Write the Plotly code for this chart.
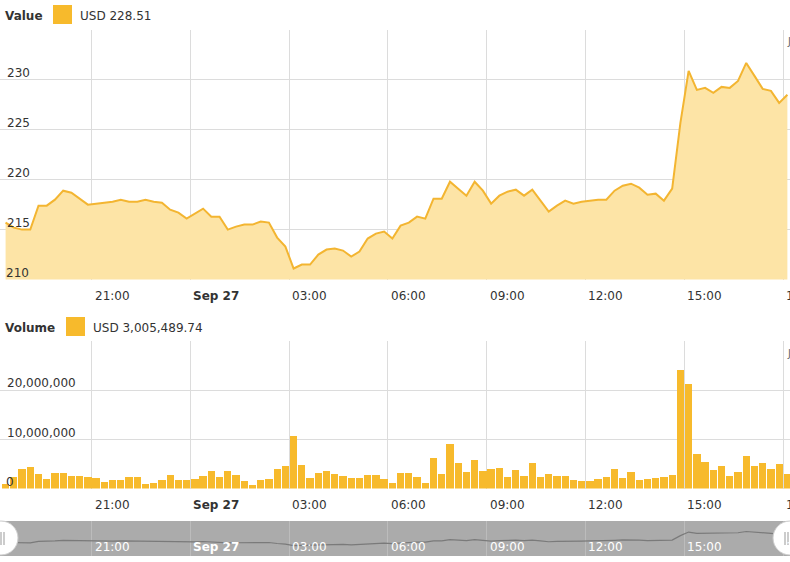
import pandas as pd
import plotly.graph_objects as go

# 15 minute candles, Sep 26 18:23 -> Sep 27 18:08
times = pd.date_range("2020-09-26 18:23", periods=96, freq="15min")

price = [
    215.7, 215.2, 215.0, 215.0, 217.4, 217.4, 218.0, 218.9, 218.7, 218.1,
    217.5, 217.6, 217.7, 217.8, 218.0, 217.8, 217.8, 218.0, 217.8, 217.7,
    217.0, 216.7, 216.1, 216.6, 217.1, 216.3, 216.3, 215.0, 215.3, 215.5,
    215.5, 215.8, 215.7, 214.2, 213.3, 211.1, 211.5, 211.5, 212.5, 213.0,
    213.1, 212.9, 212.3, 212.8, 214.1, 214.6, 214.8, 214.1, 215.4, 215.7,
    216.3, 216.1, 218.1, 218.1, 219.8, 219.1, 218.4, 219.8, 218.9, 217.6,
    218.4, 218.8, 219.0, 218.4, 219.0, 217.9, 216.8, 217.4, 217.9, 217.6,
    217.8, 217.9, 218.0, 218.0, 218.9, 219.4, 219.6, 219.2, 218.5, 218.6,
    217.9, 219.1, 225.7, 230.9, 229.0, 229.2, 228.7, 229.3, 229.2, 229.9,
    231.7, 230.4, 229.1, 228.9, 227.7, 228.51,
]

# volume in millions of USD
volume_m = [
    1.0, 2.4, 4.0, 4.3, 2.9, 1.9, 3.1, 3.1, 2.6, 2.6,
    2.4, 2.2, 1.4, 1.7, 1.7, 2.4, 2.4, 1.0, 1.2, 1.7,
    2.7, 1.7, 1.7, 2.0, 2.5, 3.5, 2.4, 3.5, 2.7, 1.5,
    0.8, 1.7, 1.9, 3.9, 4.5, 10.7, 4.8, 2.2, 3.1, 3.5,
    2.9, 2.5, 2.2, 2.2, 2.7, 2.7, 1.9, 1.2, 3.1, 3.1,
    2.4, 1.2, 6.3, 2.9, 9.0, 5.1, 3.3, 5.8, 3.5, 3.9,
    4.2, 2.4, 3.7, 2.6, 5.1, 2.4, 2.9, 2.6, 2.6, 1.7,
    1.5, 1.5, 1.9, 2.4, 4.0, 2.2, 3.3, 1.7, 1.9, 2.2,
    2.4, 2.7, 24.1, 21.3, 7.0, 5.4, 3.7, 4.5, 2.6, 3.3,
    6.6, 4.5, 5.2, 4.0, 5.0, 3.00548974,
]
volume = [v * 1e6 for v in volume_m]

tick_times = ["2020-09-26 21:00", "2020-09-27 00:00", "2020-09-27 03:00",
              "2020-09-27 06:00", "2020-09-27 09:00", "2020-09-27 12:00",
              "2020-09-27 15:00", "2020-09-27 18:00"]
tick_text = ["21:00", "Sep 27", "03:00", "06:00", "09:00", "12:00", "15:00", "18:00"]

price_ticks = [210, 215, 220, 225, 230, 235]
price_ticktext = ["", "215", "220", "225", "230", ""]
vol_ticks = [0, 10e6, 20e6, 30e6]
vol_ticktext = ["", "10,000,000", "20,000,000", ""]

W, H = 790, 562
LINE = "#f3b531"
FILL = "#fde4a6"
BAR = "#f7ba2c"
GRID = "#dcdcdc"
TXT = "#333333"
FONT = "DejaVu Sans"


def px(x):
    return x / W


def py(y):
    return 1 - y / H


x_range = ["2020-09-26 18:12:50", "2020-09-27 18:12:46"]

fig = go.Figure()
fig.add_trace(go.Scatter(x=times, y=price, mode="lines", fill="tozeroy",
                         line=dict(color=LINE, width=2), fillcolor=FILL,
                         xaxis="x", yaxis="y", hoverinfo="x+y"))
fig.add_trace(go.Bar(x=times, y=volume, marker=dict(color=BAR, line=dict(width=0)),
                     width=13.3 * 60 * 1000, xaxis="x2", yaxis="y2"))
fig.add_trace(go.Scatter(x=times, y=price, mode="lines",
                         line=dict(color="#7a7a7a", width=1.2),
                         xaxis="x3", yaxis="y3", hoverinfo="skip"))

xcommon = dict(type="date", range=x_range, tickvals=tick_times, showticklabels=False,
               showgrid=True, gridcolor=GRID, gridwidth=1, zeroline=False,
               showline=False, ticks="", fixedrange=True)
ycommon = dict(showgrid=True, gridcolor=GRID, gridwidth=1, zeroline=False,
               showline=False, ticks="", ticklabelposition="inside",
               ticklabelshift=-7, ticklabelstandoff=4,
               tickfont=dict(family=FONT, size=12, color=TXT), fixedrange=True)

fig.update_layout(
    width=W, height=H,
    margin=dict(l=0, r=0, t=0, b=0),
    paper_bgcolor="white", plot_bgcolor="white",
    showlegend=False, bargap=0,
    font=dict(family=FONT, size=12, color=TXT),
    xaxis=dict(domain=[0, 1], anchor="y", **xcommon),
    yaxis=dict(domain=[py(279.5), py(30)], range=[210, 235], tickvals=price_ticks,
               ticktext=price_ticktext, anchor="x", **ycommon),
    xaxis2=dict(domain=[0, 1], anchor="y2", **xcommon),
    yaxis2=dict(domain=[py(488.5), py(341)], range=[0, 30e6], tickvals=vol_ticks,
                ticktext=vol_ticktext, anchor="x2", **ycommon),
    xaxis3=dict(domain=[0, 1], anchor="y3", **{**xcommon, "gridcolor": "#bcbcbc"}),
    yaxis3=dict(domain=[py(556), py(521)], range=[196, 247], anchor="x3",
                showgrid=False, showticklabels=False, zeroline=False, fixedrange=True),
)

shapes = [
    # navigator band
    dict(type="rect", xref="paper", yref="paper", x0=0, x1=1, y0=py(556), y1=py(521),
         fillcolor="#ababab", line=dict(width=0), layer="below"),
    # legend squares
    dict(type="rect", xref="paper", yref="paper", x0=px(53), x1=px(72), y0=py(24), y1=py(5),
         fillcolor=BAR, line=dict(width=0)),
    dict(type="rect", xref="paper", yref="paper", x0=px(66), x1=px(85), y0=py(336), y1=py(317),
         fillcolor=BAR, line=dict(width=0)),
]
# navigator handles
for cx in (1, 790):
    shapes.append(dict(type="circle", xref="paper", yref="paper",
                       x0=px(cx - 17), x1=px(cx + 17), y0=py(555), y1=py(521),
                       fillcolor="white", line=dict(color="#cccccc", width=1)))
    for gx in ((1, 4) if cx == 1 else (785, 788)):
        shapes.append(dict(type="line", xref="paper", yref="paper",
                           x0=px(gx), x1=px(gx), y0=py(545), y1=py(532),
                           line=dict(color="#999999", width=1)))
fig.update_layout(shapes=shapes)

annotations = [
    dict(x=px(3), y=py(16), text="<b>Value</b>", xanchor="left", yanchor="middle"),
    dict(x=px(78), y=py(16), text=f"USD {price[-1]:.2f}", xanchor="left", yanchor="middle"),
    dict(x=px(3), y=py(328), text="<b>Volume</b>", xanchor="left", yanchor="middle"),
    dict(x=px(91), y=py(328), text=f"USD {volume[-1]:,.2f}", xanchor="left", yanchor="middle"),
    dict(x=px(785), y=py(41), text="J", xanchor="left", yanchor="middle",
         font=dict(size=10, color="#666666")),
    dict(x=px(785), y=py(353), text="J", xanchor="left", yanchor="middle",
         font=dict(size=10, color="#666666")),
]
for a in annotations:
    a.update(xref="paper", yref="paper", showarrow=False)
    a.setdefault("font", dict(family=FONT, size=12, color=TXT))

# lowest y labels sit on the plot edge, plotly hides those inside labels
for yref, val, label in (("y", price_ticks[0], "210"), ("y2", vol_ticks[0], "0")):
    annotations.append(dict(x=px(4), xref="paper", y=val, yref=yref, text=label,
                            xanchor="left", yanchor="middle", yshift=7,
                            showarrow=False, font=dict(family=FONT, size=12, color=TXT)))

for xref, ypx, color in (("x", 296, TXT), ("x2", 505, TXT), ("x3", 547, "white")):
    for t, label in zip(tick_times, tick_text):
        txt = f"<b>{label}</b>" if label.startswith("Sep") else label
        annotations.append(dict(x=t, xref=xref, y=py(ypx), yref="paper", text=txt,
                                xanchor="left", yanchor="middle", xshift=1,
                                showarrow=False,
                                font=dict(family=FONT, size=12, color=color)))
fig.update_layout(annotations=annotations)

fig.write_html("out.html", config={"displayModeBar": False},
               post_script="document.body.style.margin='0';")
